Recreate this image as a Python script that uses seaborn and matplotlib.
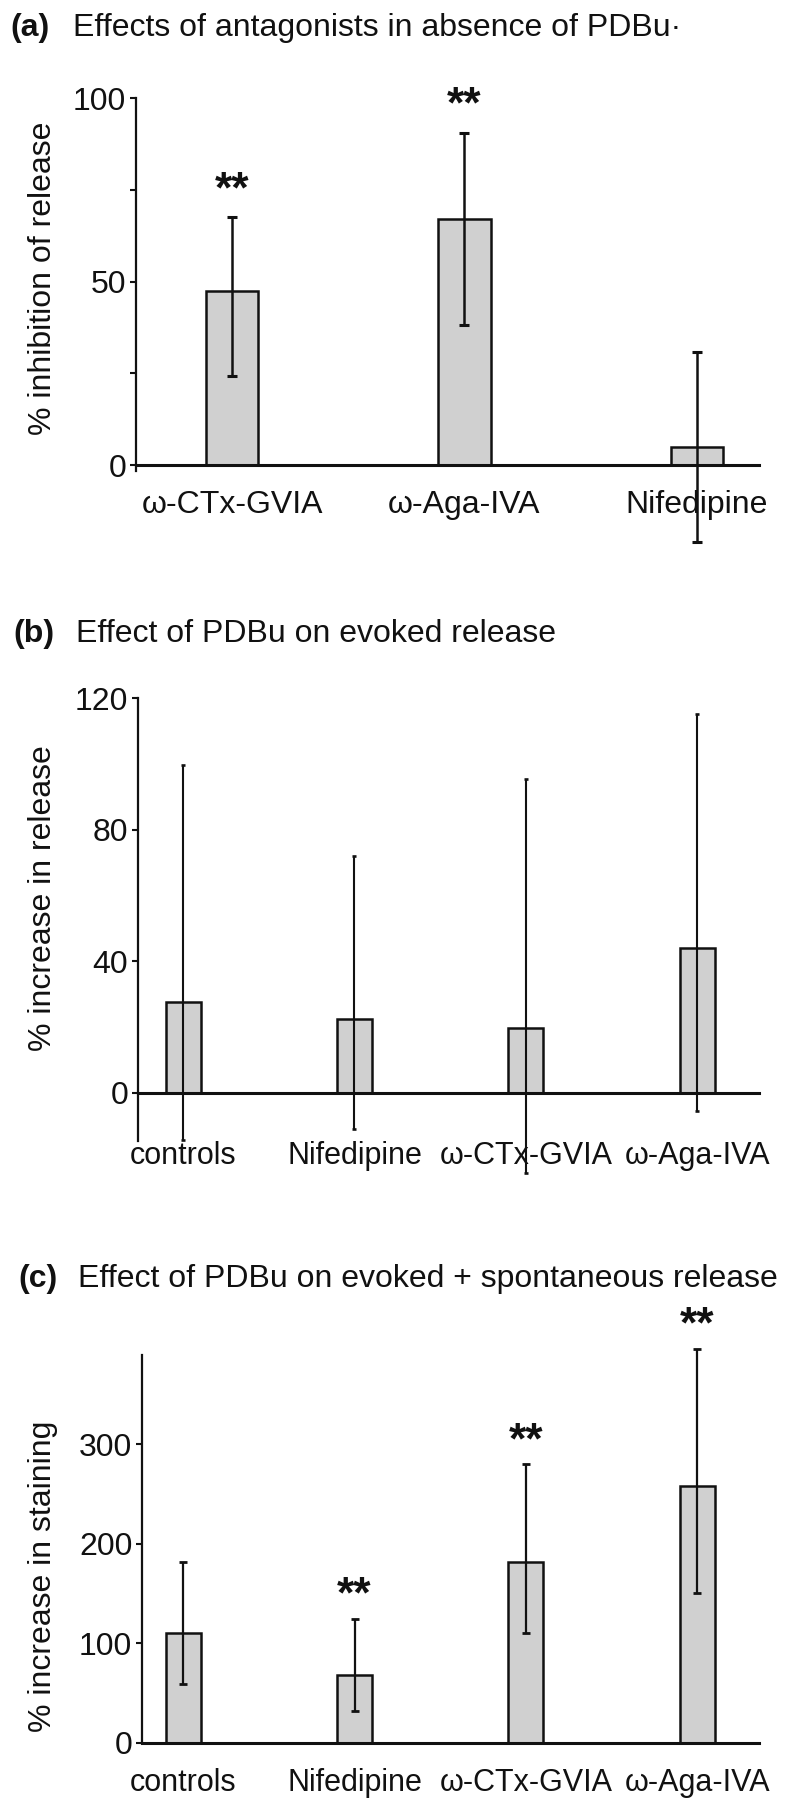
import numpy as np
import matplotlib
matplotlib.use("Agg")
import matplotlib.pyplot as plt
import seaborn as sns

# -----------------------------
# Data
# -----------------------------
# (a) inhibition of release, no PDBu
a_labels = ["ω-CTx-GVIA", "ω-Aga-IVA", "Nifedipine"]
a_mean = [47.5, 67.0, 5.0]
a_low = [24.3, 38.2, -21.0]
a_high = [67.5, 90.6, 30.7]
a_star = [True, True, False]

# (b) PDBu effect on evoked release
b_labels = ["controls", "Nifedipine", "ω-CTx-GVIA", "ω-Aga-IVA"]
b_mean = [27.6, 22.4, 19.7, 44.1]
b_low = [-14.5, -11.1, -24.5, -5.5]
b_high = [99.5, 72.0, 95.3, 115.1]

# (c) PDBu effect on evoked + spontaneous release
c_labels = ["controls", "Nifedipine", "ω-CTx-GVIA", "ω-Aga-IVA"]
c_mean = [110, 68.4, 182, 258]
c_low = [59.4, 32.4, 110, 150.7]
c_high = [182, 124.6, 280, 396]
c_star = [False, True, True, True]

# -----------------------------
# Style
# -----------------------------
sns.set_style("ticks")
plt.rcParams["font.family"] = ["Liberation Sans", "DejaVu Sans"]
FS = 23
BAR = "#d0d0d0"
INK = "#111111"

fig = plt.figure(figsize=(7.89, 18), dpi=100)


def panel(rect, labels, mean, low, high, width, capsize, lw, ylim, yticks,
          yticklabels, xlim, ylabel, label_xy, xpad, xfs=FS, stars=None,
          star_off=10):
    ax = fig.add_axes(rect)
    sns.barplot(x=labels, y=mean, ax=ax, color=BAR, saturation=1,
                edgecolor=INK, linewidth=1.8, width=width, errorbar=None)
    mean = np.array(mean, dtype=float)
    yerr = [mean - np.array(low), np.array(high) - mean]
    eb = ax.errorbar(np.arange(len(mean)), mean, yerr=yerr, fmt="none",
                     ecolor=INK, elinewidth=lw, capsize=capsize,
                     capthick=lw + 0.4, zorder=3)
    for art in eb.get_children():
        art.set_clip_on(False)
    if stars is not None:
        for i, s in enumerate(stars):
            if s:
                ax.annotate("**", xy=(i, high[i]), xytext=(0, star_off),
                            textcoords="offset points", ha="center",
                            va="baseline", fontsize=32, fontweight="bold",
                            color=INK, annotation_clip=False)
    ax.set_xlim(*xlim)
    ax.set_ylim(*ylim)
    ax.set_yticks(yticks)
    ax.set_yticklabels(yticklabels)
    ax.spines["right"].set_visible(False)
    ax.spines["top"].set_visible(False)
    ax.spines["bottom"].set_position(("data", 0))
    ax.spines["left"].set_linewidth(1.6)
    ax.spines["bottom"].set_linewidth(2.2)
    ax.spines["left"].set_color(INK)
    ax.spines["bottom"].set_color(INK)
    ax.tick_params(axis="y", direction="out", length=4, width=1.5,
                   pad=3, labelsize=FS, colors=INK)
    ax.tick_params(axis="x", length=0, pad=xpad, labelsize=xfs, colors=INK)
    ax.set_xlabel("")
    ax.set_ylabel(ylabel, fontsize=FS, color=INK)
    ax.yaxis.set_label_coords(*label_xy)
    return ax


ax_a = panel([0.1724, 0.7383, 0.7896, 0.2072], a_labels, a_mean, a_low, a_high,
             0.224, 3.6, 1.8, (-1.6, 100), [0, 25, 50, 75, 100],
             ["0", "", "50", "", "100"], (-0.413, 2.267),
             "% inhibition of release", (-0.125, 0.517), 18,
             stars=a_star, star_off=11)
# label in (a) hides the error bar passing behind it
ax_a.set_axisbelow(False)
for lab in ax_a.get_xticklabels():
    lab.set_bbox(dict(facecolor="white", edgecolor="none", pad=1))

panel([0.1749, 0.3661, 0.7871, 0.2461], b_labels, b_mean, b_low, b_high,
      0.204, 1.5, 1.5, (-14.7, 120), [0, 40, 80, 120],
      ["0", "40", "80", "120"], (-0.263, 3.36),
      "% increase in release", (-0.129, 0.549), 35, xfs=22)

panel([0.1800, 0.0317, 0.7820, 0.2156], c_labels, c_mean, c_low, c_high,
      0.204, 3.0, 1.6, (0, 390), [0, 100, 200, 300],
      ["0", "100", "200", "300"], (-0.24, 3.36),
      "% increase in staining", (-0.136, 0.430), 18, xfs=22,
      stars=c_star, star_off=8)

# -----------------------------
# Panel titles
# -----------------------------
titles = [("(a)", "Effects of antagonists in absence of PDBu·", 10, 73, 36),
          ("(b)", "Effect of PDBu on evoked release", 13, 76, 642),
          ("(c)", "Effect of PDBu on evoked + spontaneous release", 18, 78, 1287)]
for tag, text, x_tag, x_txt, y in titles:
    fig.text(x_tag / 789, 1 - y / 1800, tag, fontsize=FS, fontweight="bold",
             va="baseline", ha="left", color=INK)
    fig.text(x_txt / 789, 1 - y / 1800, text, fontsize=FS,
             va="baseline", ha="left", color=INK)

fig.savefig("out.png", dpi=100)
